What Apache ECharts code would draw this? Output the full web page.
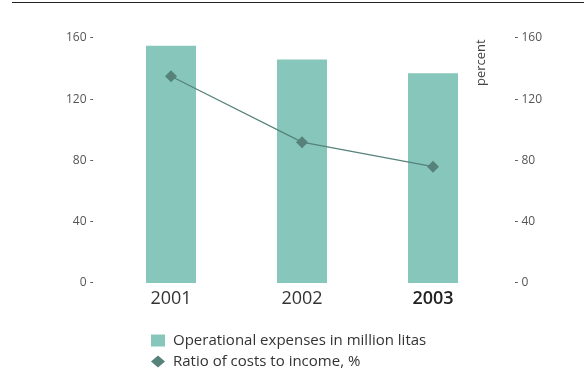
<!DOCTYPE html>
<html><head><meta charset="utf-8">
<script src="https://cdn.jsdelivr.net/npm/echarts@6/dist/echarts.min.js"></script>
<style>html,body{margin:0;padding:0;background:#fff}#c{width:584px;height:392px}</style>
</head><body><div id="c"></div>
<script>
const categories = ['2001', '2002', '2003'];
const expenses = [155, 146, 137];
const ratio = [135, 92, 76];
const leftTicks = [0, 40, 80, 120, 160];
const barName = 'Operational expenses in million litas';
const lineName = 'Ratio of costs to income, %';
const font = 'Open Sans';

const chart = echarts.init(document.getElementById('c'), null, {renderer: 'canvas'});
chart.setOption({
  animation: false,
  textStyle: {fontFamily: font},
  grid: {left: 105.5, right: 85.5, top: 38, bottom: 109},
  graphic: [
    {type: 'line', shape: {x1: 12, y1: 2.5, x2: 584, y2: 2.5}, style: {stroke: '#222', lineWidth: 1}},
    {type: 'text', x: 481, y: 86, rotation: Math.PI / 2,
      style: {text: 'percent', fill: '#444', font: '13px ' + font, textAlign: 'left', textVerticalAlign: 'middle'}}
  ],
  xAxis: {
    type: 'category', data: categories,
    axisLine: {show: false}, axisTick: {show: false},
    axisLabel: {margin: 7, fontSize: 18, color: '#333', fontFamily: font,
      formatter: (v, i) => i === 2 ? '{b|' + v + '}' : v,
      rich: {b: {fontSize: 18, fontWeight: 600, color: '#222', fontFamily: font}}}
  },
  yAxis: [
    {type: 'value', min: 0, max: 160, interval: 40, splitLine: {show: false},
      axisLine: {show: false}, axisTick: {show: false},
      axisLabel: {formatter: '{value} -', color: '#555', fontSize: 12, margin: 12}},
    {type: 'value', min: 0, max: 160, interval: 40, splitLine: {show: false},
      axisLine: {show: false}, axisTick: {show: false},
      axisLabel: {formatter: '- {value}', color: '#555', fontSize: 12, margin: 16}}
  ],
  legend: {
    orient: 'vertical', left: 146, top: 328, itemGap: 6, itemWidth: 14, itemHeight: 12,
    textStyle: {fontSize: 15, color: '#333', fontFamily: font, padding: [0, 0, 0, 3]},
    data: [{name: barName, icon: 'rect'}, {name: lineName, icon: 'diamond'}]
  },
  series: [
    {name: barName, type: 'bar', data: expenses, barWidth: 50, itemStyle: {color: '#87c6ba'}},
    {name: lineName, type: 'line', data: ratio, symbol: 'diamond', symbolSize: 12,
      itemStyle: {color: '#56827a'}, lineStyle: {color: '#56827a', width: 1.2}}
  ]
});
</script></body></html>
